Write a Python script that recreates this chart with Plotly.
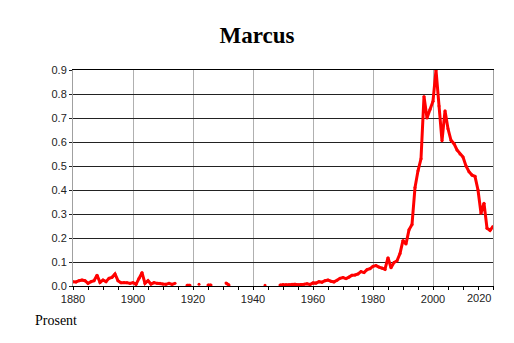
import plotly.graph_objects as go

# ---- data (share of newborns named Marcus, percent) ----
years = list(range(1880, 2021))

share_1880_1914 = [0.018, 0.017, 0.022, 0.025, 0.022, 0.011, 0.018, 0.022, 0.045, 0.015,
                   0.025, 0.018, 0.032, 0.036, 0.050, 0.022, 0.014, 0.015, 0.014, 0.011,
                   0.014, 0.007, 0.032, 0.056, 0.011, 0.022, 0.008, 0.014, 0.011, 0.011,
                   0.008, 0.007, 0.011, 0.007, 0.011]
share_1915_1948 = [None, None, None, 0.003, 0.003, None, None, 0.007, None, None,
                   0.004, 0.004, None, None, None, None, 0.012, 0.004, None, None,
                   None, None, None, None, None, None, None, None, None, 0.003,
                   None, None, None, None]
share_1949_1988 = [0.004, 0.006, 0.005, 0.005, 0.007, 0.007, 0.005, 0.005, 0.007, 0.009,
                   0.006, 0.013, 0.012, 0.018, 0.016, 0.022, 0.025, 0.020, 0.017, 0.024,
                   0.032, 0.035, 0.031, 0.037, 0.045, 0.046, 0.050, 0.060, 0.056, 0.068,
                   0.072, 0.082, 0.085, 0.079, 0.075, 0.070, 0.118, 0.076, 0.098, 0.105]
share_1989_2020 = [0.135, 0.190, 0.175, 0.234, 0.256, 0.410, 0.480, 0.530, 0.790, 0.700,
                   0.735, 0.770, 0.900, 0.750, 0.605, 0.730, 0.655, 0.607, 0.593, 0.567,
                   0.550, 0.537, 0.500, 0.476, 0.462, 0.457, 0.400, 0.303, 0.345, 0.241,
                   0.232, 0.248]

share = share_1880_1914 + share_1915_1948 + share_1949_1988 + share_1989_2020

x_tick_vals = [1880, 1900, 1920, 1940, 1960, 1980, 2000, 2020]
x_tick_text = ["1880", "1900", "1920", "1940", "1960", "1980", "2000", ""]
last_tick_label = "2020"
y_tick_vals = [0.0, 0.1, 0.2, 0.3, 0.4, 0.5, 0.6, 0.7, 0.8, 0.9]

title_text = "Marcus"
y_caption = "Prosent"

TICK_FONT = dict(family="Liberation Sans, Arial, sans-serif", size=11, color="#222")

fig = go.Figure(
    go.Scatter(
        x=years, y=share,
        mode="lines+markers",
        line=dict(color="#ff0000", width=3),
        marker=dict(size=3, color="#ff0000"),
        connectgaps=False,
        hoverinfo="skip",
    )
)

fig.update_layout(
    width=514, height=343,
    margin=dict(l=73, r=21, t=70, b=57),
    paper_bgcolor="white",
    plot_bgcolor="white",
    showlegend=False,
    title=dict(
        text="<b>" + title_text + "</b>",
        font=dict(family="Liberation Serif, Times New Roman, serif", size=23, color="black"),
        x=0.5, xref="container", xanchor="center",
        y=1 - 35 / 343, yref="container", yanchor="middle",
    ),
    xaxis=dict(
        range=[1880, 2020],
        tickmode="array", tickvals=x_tick_vals, ticktext=x_tick_text,
        showgrid=True, gridcolor="#b0b0b0", gridwidth=1,
        ticks="outside", ticklen=3, tickcolor="black", tickwidth=1,
        minor=dict(tickmode="linear", tick0=1880, dtick=5, ticks="outside",
                   ticklen=3, tickcolor="black", showgrid=False),
        showline=True, linecolor="black", linewidth=1, mirror=True,
        zeroline=False,
        tickfont=TICK_FONT,
    ),
    yaxis=dict(
        range=[0, 0.9],
        tickmode="array", tickvals=y_tick_vals, tickformat=".1f",
        showgrid=True, gridcolor="#222", gridwidth=1,
        ticks="outside", ticklen=3, tickcolor="#222",
        showline=True, linecolor="#a0a0a0", linewidth=1, mirror=True,
        zeroline=False,
        tickfont=TICK_FONT,
    ),
    annotations=[
        dict(text=last_tick_label, x=2020, xref="x", xanchor="right",
             y=0, yref="paper", yanchor="top", yshift=-4,
             showarrow=False, font=TICK_FONT),
        dict(text=y_caption, x=(33 - 73) / 420, xref="paper", xanchor="left",
             y=(286 - 320) / 216, yref="paper", yanchor="middle",
             showarrow=False,
             font=dict(family="Liberation Serif, Times New Roman, serif", size=14, color="black")),
    ],
)

fig.write_html("out.html")
